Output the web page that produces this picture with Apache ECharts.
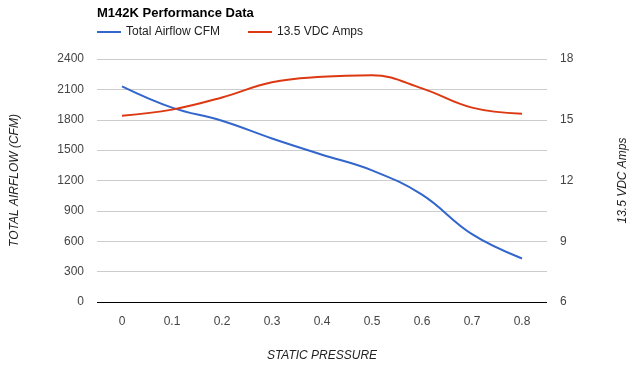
<!DOCTYPE html>
<html><head><meta charset="utf-8">
<script src="https://cdn.jsdelivr.net/npm/echarts@6/dist/echarts.min.js"></script>
<style>html,body{margin:0;padding:0;background:#fff}#c{width:640px;height:367px}</style>
</head><body><div id="c"></div>
<script>
const categories = ['0','0.1','0.2','0.3','0.4','0.5','0.6','0.7','0.8'];
const airflow = [2130, 1920, 1790, 1615, 1455, 1300, 1060, 670, 430];
const amps = [15.2, 15.5, 16.1, 16.85, 17.12, 17.2, 16.55, 15.6, 15.3];
const leftTicks = [0, 2400, 300];
const rightTicks = [6, 18, 3];
const F = 'Liberation Sans, Arial, sans-serif';
const chart = echarts.init(document.getElementById('c'));
chart.setOption({
  animation: false,
  title: { text: 'M142K Performance Data', left: 92, top: 2,
    textStyle: { fontFamily: F, fontSize: 13, fontWeight: 'bold', color: '#000' } },
  legend: { left: 92, top: 21, itemWidth: 24, itemHeight: 2, itemGap: 28, icon: 'rect',
    textStyle: { fontFamily: F, fontSize: 12, color: '#222' },
    data: ['Total Airflow CFM', '13.5 VDC Amps'] },
  grid: { left: 97, right: 93, top: 59, bottom: 62 },
  xAxis: { type: 'category', data: categories, boundaryGap: true,
    name: 'STATIC PRESSURE', nameLocation: 'middle', nameGap: 48,
    nameTextStyle: { fontFamily: F, fontSize: 12, fontStyle: 'italic', color: '#222' },
    axisLine: { show: false }, axisTick: { show: false },
    axisLabel: { fontFamily: F, fontSize: 12, color: '#444', margin: 14 } },
  yAxis: [
    { type: 'value', min: leftTicks[0], max: leftTicks[1], interval: leftTicks[2],
      name: 'TOTAL AIRFLOW (CFM)', nameLocation: 'middle', nameGap: 76,
      nameTextStyle: { fontFamily: F, fontSize: 12, fontStyle: 'italic', color: '#222' },
      axisLine: { show: false }, axisTick: { show: false },
      axisLabel: { fontFamily: F, fontSize: 12, color: '#444', margin: 13, formatter: v => String(v) },
      splitLine: { lineStyle: { color: '#cccccc', width: 1 } } },
    { type: 'value', min: rightTicks[0], max: rightTicks[1], interval: rightTicks[2],
      name: '13.5 VDC Amps', nameLocation: 'middle', nameGap: 70,
      nameTextStyle: { fontFamily: F, fontSize: 12, fontStyle: 'italic', color: '#222' },
      axisLine: { show: false }, axisTick: { show: false },
      axisLabel: { fontFamily: F, fontSize: 12, color: '#444', margin: 13 },
      splitLine: { show: false } }
  ],
  series: [
    { name: 'Total Airflow CFM', type: 'line', yAxisIndex: 0, data: airflow, smooth: 0.4,
      showSymbol: false, lineStyle: { color: '#3366cc', width: 2 }, itemStyle: { color: '#3366cc' },
      markLine: { silent: true, symbol: 'none', label: { show: false },
        lineStyle: { color: '#000', width: 1.2, type: 'solid' }, data: [{ yAxis: 0 }] } },
    { name: '13.5 VDC Amps', type: 'line', yAxisIndex: 1, data: amps, smooth: 0.4,
      showSymbol: false, lineStyle: { color: '#dc3912', width: 2 }, itemStyle: { color: '#dc3912' } }
  ]
});
</script></body></html>
